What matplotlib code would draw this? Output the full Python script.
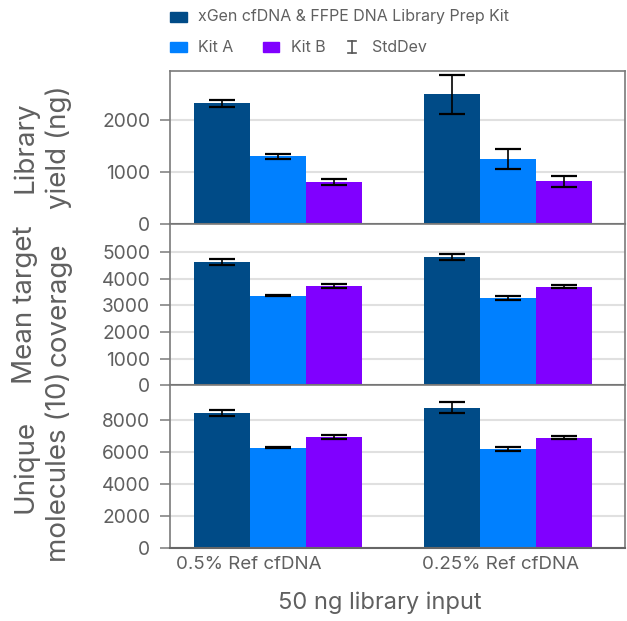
import matplotlib
matplotlib.use("Agg")
import matplotlib.pyplot as plt
import matplotlib.transforms as mtransforms
from matplotlib.patches import Rectangle
from matplotlib.lines import Line2D
import numpy as np

plt.rcParams['font.family'] = ['Inter', 'DejaVu Sans']

# ---- data ----
categories = ["0.5% Ref cfDNA", "0.25% Ref cfDNA"]
kits = ["xGen cfDNA & FFPE DNA Library Prep Kit", "Kit A", "Kit B"]
colors = ["#004B87", "#0080FF", "#8000FF"]

yield_vals = [[2320, 2500], [1305, 1250], [810, 825]]
yield_err = [[65, 375], [45, 190], [55, 105]]

coverage_vals = [[4630, 4820], [3360, 3285], [3735, 3700]]
coverage_err = [[105, 105], [20, 65], [85, 50]]

unique_vals = [[8470, 8800], [6280, 6210], [6970, 6900]]
unique_err = [[170, 350], [25, 110], [125, 90]]

panel_titles = ["Library\nyield (ng)", "Mean target\ncoverage", "Unique\nmolecules (10)"]
panel_ylims = [2950, 6060, 10200]
panel_yticks = [[0, 1000, 2000], [0, 1000, 2000, 3000, 4000, 5000], [0, 2000, 4000, 6000, 8000]]
xlabel = "50 ng library input"

# ---- figure ----
W, H = 627, 621
fig = plt.figure(figsize=(W / 100, H / 100), dpi=100)

def fx(px):
    return px / W

def fy(py):
    return 1 - py / H

left_px, right_px = 170, 625
panel_px = [(70.7, 224), (224, 385.3), (385.3, 547.7)]

text_gray = "#606060"
spine_gray = "#7a7a7a"
grid_gray = "#e0e0e0"

x = np.arange(len(categories))
bw = 0.2435

panels = [
    (yield_vals, yield_err),
    (coverage_vals, coverage_err),
    (unique_vals, unique_err),
]

axes = []
for i, ((vals, errs), (ptop, pbot)) in enumerate(zip(panels, panel_px)):
    ax = fig.add_axes([fx(left_px), fy(pbot), fx(right_px - left_px), (pbot - ptop) / H])
    axes.append(ax)
    for k in range(3):
        ax.bar(x + (k - 1) * bw, vals[k], width=bw, color=colors[k], zorder=2)
        ax.errorbar(x + (k - 1) * bw, vals[k], yerr=errs[k], fmt='none',
                    ecolor='black', elinewidth=1.2, capsize=9.4, capthick=1.6, zorder=3)
    ax.set_xlim(-0.47, 1.509)
    ax.set_ylim(0, panel_ylims[i])
    ax.set_yticks(panel_yticks[i])
    ax.yaxis.grid(True, color=grid_gray, linewidth=1.5, zorder=0)
    ax.set_axisbelow(True)
    ax.tick_params(axis='y', length=7.2, width=1.1, color=spine_gray, pad=7,
                   labelsize=13.8, labelcolor=text_gray)
    for s in ax.spines.values():
        s.set_color(spine_gray)
        s.set_linewidth(1.2)
    ax.spines['bottom'].set_color("#666666")
    ax.spines['bottom'].set_linewidth(1.5)
    if i < 2:
        ax.set_xticks([])
    else:
        ax.set_xticks(x)
        ax.set_xticklabels(categories)
        ax.tick_params(axis='x', length=0, pad=6, labelsize=13.5, labelcolor=text_gray)
        shifts = [-29, -7]
        for lab, s in zip(ax.get_xticklabels(), shifts):
            lab.set_transform(lab.get_transform() +
                              mtransforms.ScaledTranslation(s / 100, 0, fig.dpi_scale_trans))
    # y title
    fig.text(fx(42), fy((ptop + pbot) / 2), panel_titles[i], rotation=90,
             ha='center', va='center', multialignment='center',
             fontsize=20, color=text_gray, linespacing=1.38)

fig.text(fx(380), fy(609), xlabel, ha='center', va='baseline', fontsize=17, color=text_gray)

# ---- legend ----
leg_fs = 11.5
fig.add_artist(Rectangle((fx(170), fy(22)), fx(17), 10 / H, color=colors[0], transform=fig.transFigure))
fig.text(fx(198), fy(17), kits[0], ha='left', va='center', fontsize=leg_fs, color=text_gray)
fig.add_artist(Rectangle((fx(170), fy(52)), fx(17), 10 / H, color=colors[1], transform=fig.transFigure))
fig.text(fx(198), fy(47), kits[1], ha='left', va='center', fontsize=leg_fs, color=text_gray)
fig.add_artist(Rectangle((fx(263), fy(52)), fx(16), 10 / H, color=colors[2], transform=fig.transFigure))
fig.text(fx(291), fy(47), kits[2], ha='left', va='center', fontsize=leg_fs, color=text_gray)
# StdDev glyph
cx = 352
fig.add_artist(Line2D([fx(cx), fx(cx)], [fy(41), fy(53)], color="#555555", lw=1.2, transform=fig.transFigure))
fig.add_artist(Line2D([fx(cx - 4.5), fx(cx + 4.5)], [fy(41), fy(41)], color="#555555", lw=1.2, transform=fig.transFigure))
fig.add_artist(Line2D([fx(cx - 4.5), fx(cx + 4.5)], [fy(53), fy(53)], color="#555555", lw=1.2, transform=fig.transFigure))
fig.text(fx(372), fy(47), "StdDev", ha='left', va='center', fontsize=leg_fs, color=text_gray)

fig.savefig("out.png", dpi=100)
